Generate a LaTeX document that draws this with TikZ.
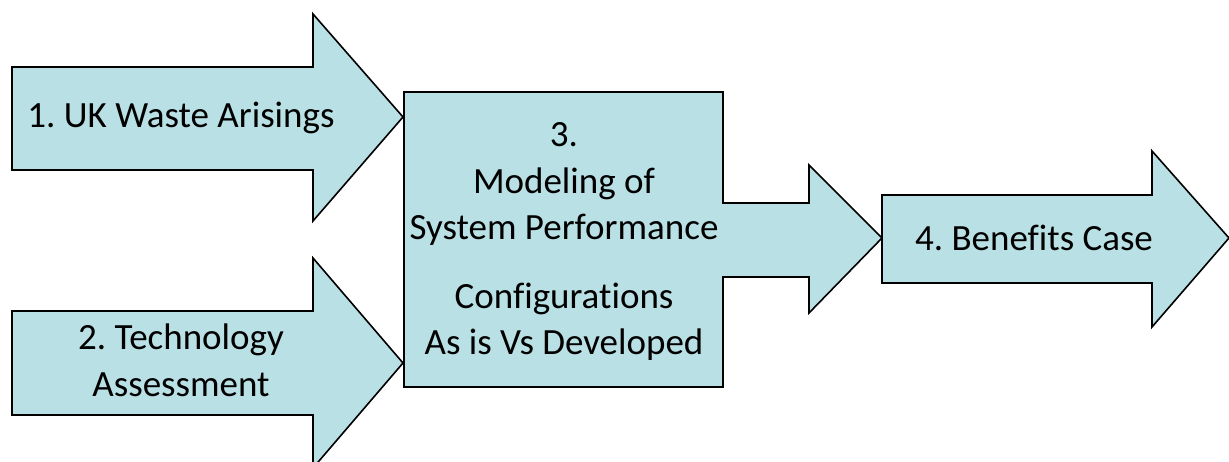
\documentclass[tikz,border=0pt]{standalone}
\usepackage{fontspec}
\setmainfont{Carlito}[Ligatures=NoCommon]
\definecolor{flowfill}{RGB}{185,224,228}
\frenchspacing
\begin{document}
\begin{tikzpicture}[x=1pt,y=-1pt,
  flowshape/.style={fill=flowfill,draw=black,line width=1.6pt,line join=miter},
  steptext/.style={font=\fontsize{37}{46.5}\selectfont,align=center,inner sep=0pt,anchor=base}]
\useasboundingbox (0,0) rectangle (1229,462);
\clip (0,0) rectangle (1229,462);

% step 1: input arrow
\draw[flowshape] (12,67) -- (313,67) -- (313,14) -- (403,117) -- (313,221)
  -- (313,170) -- (12,170) -- cycle;
% step 2: input arrow
\draw[flowshape] (12,311) -- (313,311) -- (313,258) -- (403,363) -- (313,468)
  -- (313,415) -- (12,415) -- cycle;
% step 3: box with outgoing arrow
\draw[flowshape] (404,92) -- (723,92) -- (723,203) -- (809,203) -- (809,165)
  -- (882,238) -- (809,313) -- (809,277) -- (723,277) -- (723,387)
  -- (404,387) -- cycle;
% step 4: output arrow
\draw[flowshape] (882,195) -- (1152,195) -- (1152,151) -- (1229,238)
  -- (1152,327) -- (1152,283) -- (882,283) -- cycle;

% labels (the base anchor sits on the last line)
\node[steptext] (s1) at (181,128) {1. UK Waste Arisings};
\node[steptext] (s2) at (181,396) {2. Technology\\Assessment};
\node[steptext] (s3a) at (564,240) {3.\\Modeling of\\System Performance};
\node[steptext] (s3b) at (564,355) {Configurations\\As is Vs Developed};
\node[steptext] (s4) at (1034,251) {4. Benefits Case};
\end{tikzpicture}
\end{document}
